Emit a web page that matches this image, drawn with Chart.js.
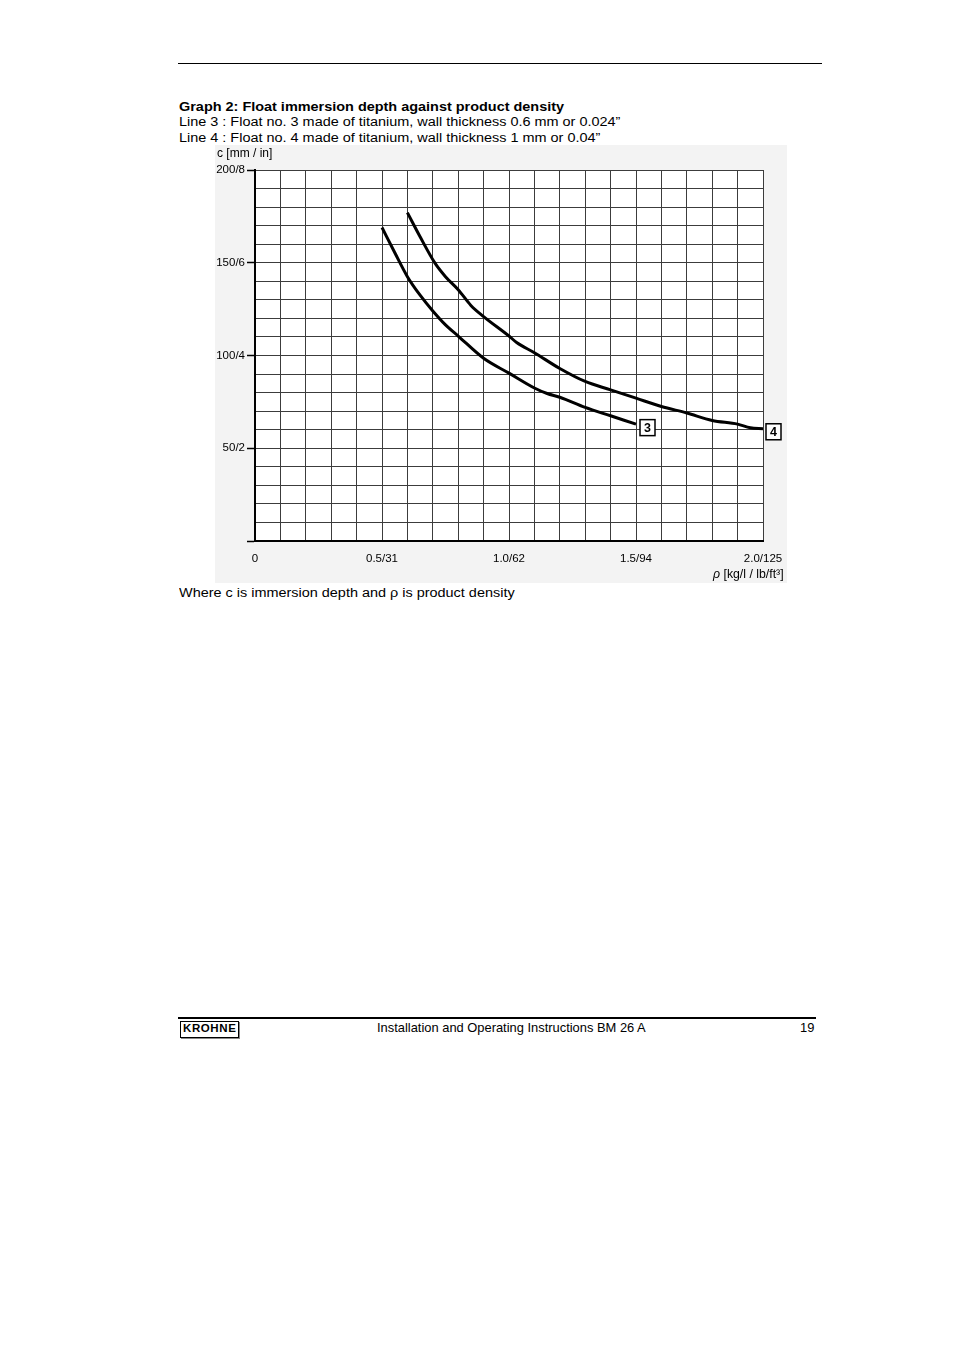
<!DOCTYPE html>
<html>
<head>
<meta charset="utf-8">
<script src="https://cdn.jsdelivr.net/npm/chart.js@4.4.1/dist/chart.umd.min.js"></script>
<style>
  html, body { margin:0; padding:0; background:#fff; }
  body { width:954px; height:1351px; position:relative; font-family:"Liberation Sans", Arial, sans-serif; color:#000; }
  .t { position:absolute; white-space:nowrap; line-height:1; }
  .w { font-size:12.5px; transform:scaleX(1.155); transform-origin:0 0; }
  #wrap { position:absolute; left:215px; top:145px; width:572px; height:438px; background:#f3f3f3; }
</style>
</head>
<body>
<div style="position:absolute;left:178px;top:63px;width:644px;height:1px;background:#000;"></div>

<div class="t w" style="left:179px;top:101px;font-weight:bold;">Graph 2: Float immersion depth against product density</div>
<div class="t w" style="left:179px;top:115.5px;">Line 3 : Float no. 3 made of titanium, wall thickness 0.6 mm or 0.024”</div>
<div class="t w" style="left:179px;top:132px;">Line 4 : Float no. 4 made of titanium, wall thickness 1 mm or 0.04”</div>

<div id="wrap"><canvas id="c" width="572" height="438"></canvas></div>
<div class="t" style="left:217px;top:147px;font-size:12px;">c [mm / in]</div>
<div class="t" style="left:713px;top:568px;font-size:12.3px;"><i>ρ</i> [kg/l / lb/ft³]</div>

<div class="t w" style="left:179px;top:587px;">Where c is immersion depth and ρ is product density</div>

<div style="position:absolute;left:178px;top:1017px;width:638px;height:2px;background:#000;"></div>
<div style="position:absolute;left:180px;top:1021px;width:57px;height:15px;border:1px solid #000;box-shadow:1px 1px 0 #888;"></div>
<div class="t" style="left:183px;top:1023px;font-size:11.5px;font-weight:bold;letter-spacing:0.6px;">KROHNE</div>
<div class="t" style="left:377px;top:1021.5px;font-size:12.9px;">Installation and Operating Instructions BM 26 A</div>
<div class="t" style="left:800px;top:1021.5px;font-size:12.9px;">19</div>

<script>
// Line 3 (float no. 3): density [kg/l] vs immersion depth [mm]
const line3Density = [0.5, 0.55, 0.6, 0.65, 0.7, 0.75, 0.8, 0.9, 1.0, 1.1, 1.15, 1.2, 1.3, 1.4, 1.5];
const line3Depth   = [169, 155.5, 142.5, 132.5, 124, 116.5, 110.5, 98.5, 90.5, 82.5, 79.5, 77.5, 72, 67.5, 63];
// Line 4 (float no. 4)
const line4Density = [0.6, 0.65, 0.71, 0.75, 0.8, 0.85, 0.9, 1.0, 1.03, 1.1, 1.2, 1.3, 1.4, 1.5, 1.6, 1.7, 1.8, 1.9, 1.95, 2.0];
const line4Depth   = [177, 164, 149.5, 142.5, 135.5, 127, 121, 110.5, 107, 101.5, 93, 86, 81.5, 77, 72.5, 69, 65, 63, 61, 60.5];
// Tick labels
const yTickLabels = {50: '50/2', 100: '100/4', 150: '150/6', 200: '200/8'};
const xTickLabels = {0: '0', 5: '0.5/31', 10: '1.0/62', 15: '1.5/94', 20: '2.0/125'};
const seriesNames = ['3', '4'];

const toPts = (xs, ys) => xs.map((x, i) => ({x: x, y: ys[i]}));

const bgPlugin = {
  id: 'bg',
  beforeDraw(chart) {
    const {ctx, chartArea: a} = chart;
    ctx.save();
    ctx.fillStyle = '#ffffff';
    ctx.fillRect(a.left, a.top, a.right - a.left, a.bottom - a.top);
    ctx.restore();
  }
};

const tagPlugin = {
  id: 'tags',
  afterDatasetsDraw(chart) {
    const ctx = chart.ctx;
    const offs = [{dx: 4, dy: 3.5}, {dx: 3, dy: 3}];
    chart.data.datasets.forEach((ds, i) => {
      const meta = chart.getDatasetMeta(i);
      const last = meta.data[meta.data.length - 1];
      const w = 15, h = 16;
      const x = last.x + offs[i].dx, y = last.y + offs[i].dy - h / 2;
      ctx.save();
      ctx.fillStyle = '#fff';
      ctx.fillRect(x, y, w, h);
      ctx.strokeStyle = '#000';
      ctx.lineWidth = 1.5;
      ctx.strokeRect(x, y, w, h);
      ctx.fillStyle = '#000';
      ctx.font = 'bold 12.5px "Liberation Sans", Arial, sans-serif';
      ctx.textAlign = 'center';
      ctx.textBaseline = 'middle';
      ctx.fillText(seriesNames[i], x + w / 2, y + h / 2 + 0.5);
      ctx.restore();
    });
  }
};

new Chart(document.getElementById('c'), {
  type: 'scatter',
  data: {
    datasets: [
      {label: 'Line 3', data: toPts(line3Density, line3Depth), showLine: true, borderColor: '#000', borderWidth: 3, pointRadius: 0, cubicInterpolationMode: 'monotone'},
      {label: 'Line 4', data: toPts(line4Density, line4Depth), showLine: true, borderColor: '#000', borderWidth: 3, pointRadius: 0, cubicInterpolationMode: 'monotone'}
    ]
  },
  options: {
    responsive: false,
    animation: false,
    layout: {padding: {left: 0, top: 25, right: 24, bottom: 0}},
    plugins: {legend: {display: false}, tooltip: {enabled: false}},
    scales: {
      x: {
        type: 'linear', min: 0, max: 2.0,
        afterFit(s) { s.height = 42; s.paddingLeft = 0; s.paddingRight = 0; },
        ticks: {
          stepSize: 0.1, autoSkip: false, maxRotation: 0, padding: 11,
          color: '#000', font: {family: '"Liberation Sans", Arial, sans-serif', size: 11.5},
          callback(v) { const k = Math.round(v * 10); return xTickLabels[k] !== undefined ? xTickLabels[k] : ''; }
        },
        grid: {color: '#3c3c3c', lineWidth: 1, drawTicks: false},
        border: {color: '#000', width: 2}
      },
      y: {
        type: 'linear', min: 0, max: 200,
        afterFit(s) { s.width = 40; s.paddingTop = 0; s.paddingBottom = 0; },
        ticks: {
          stepSize: 10, autoSkip: false, padding: 2,
          color: '#000', font: {family: '"Liberation Sans", Arial, sans-serif', size: 11.5},
          callback(v) { const k = Math.round(v); return yTickLabels[k] !== undefined ? yTickLabels[k] : ''; }
        },
        grid: {
          color: '#3c3c3c', lineWidth: 1, tickLength: 8,
          tickColor(ctx) { const v = Math.round(ctx.tick ? ctx.tick.value : -1); return (v % 50 === 0) ? '#000' : 'rgba(0,0,0,0)'; },
          tickWidth: 1.5
        },
        border: {color: '#000', width: 2}
      }
    }
  },
  plugins: [bgPlugin, tagPlugin]
});
</script>
</body>
</html>
